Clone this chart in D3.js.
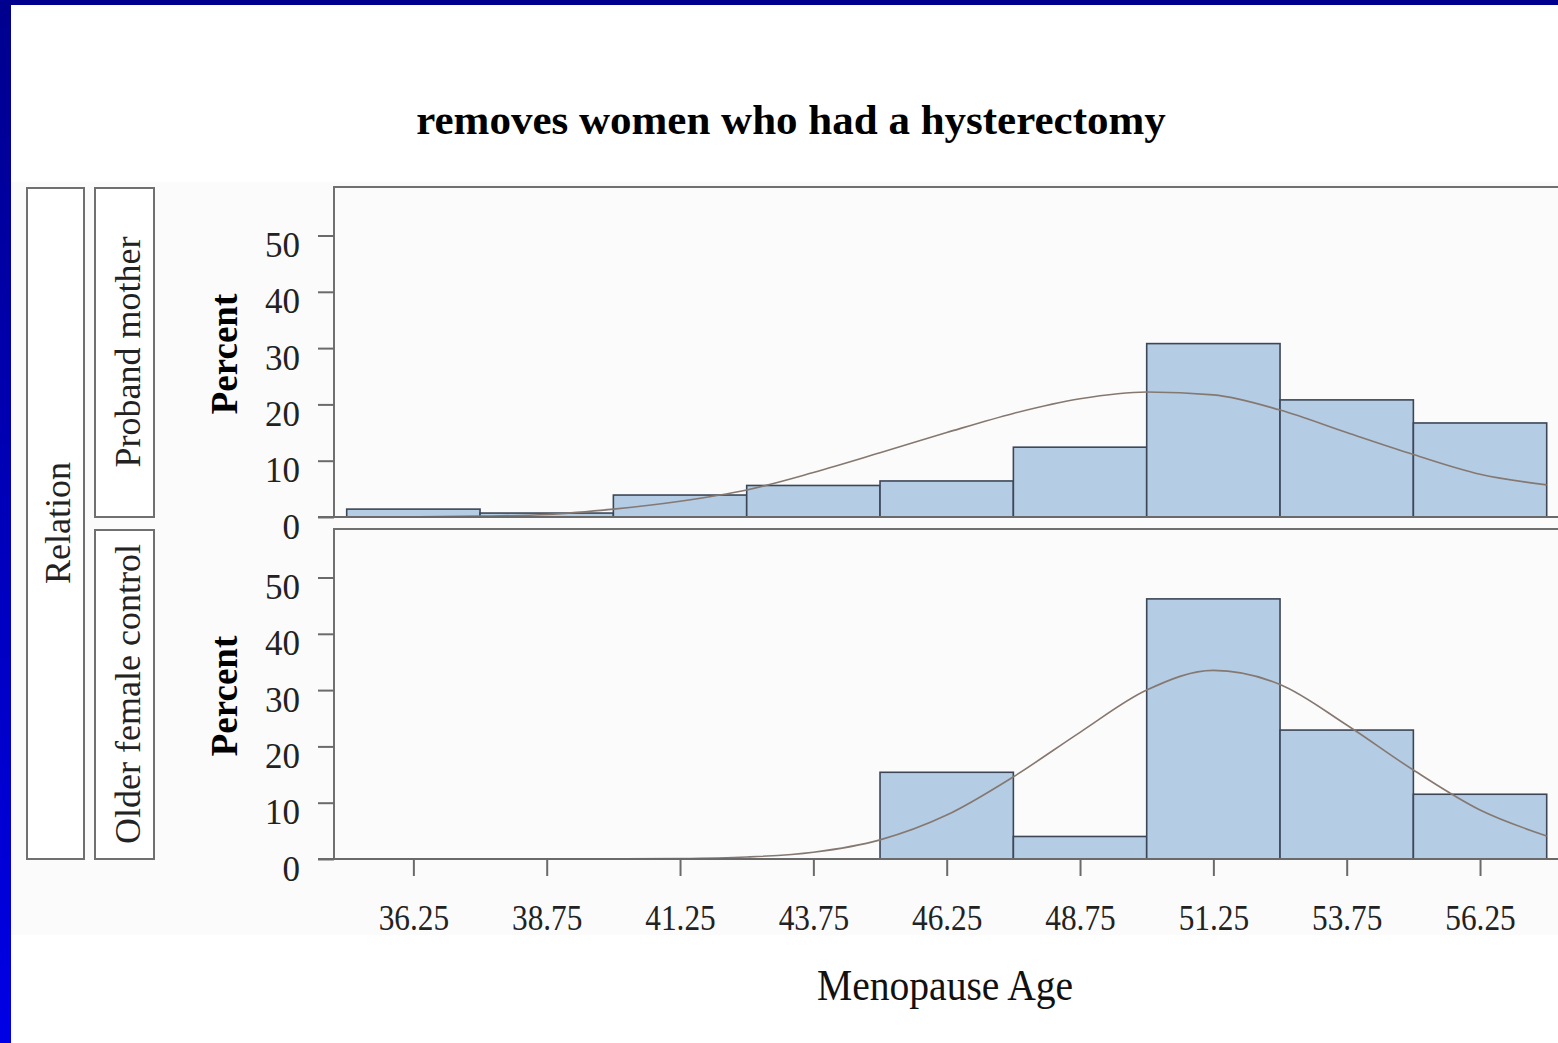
<!DOCTYPE html>
<meta charset="utf-8">
<style>
body { margin: 0; background: #fff; }
svg { display: block; font-family: "Liberation Serif", "Times New Roman", serif; }
.axis path { display: none; }
.axis line { stroke: #6a6a6a; stroke-width: 2; }
.axis text { fill: #222; font-size: 35px; font-family: "Liberation Serif", serif; }
.frame { fill: none; stroke: #707070; stroke-width: 2; }
.strip { fill: #fff; stroke: #707070; stroke-width: 2; }
.bar { fill: #b4cce4; stroke: #3c4656; stroke-width: 1.6; }
.curve { fill: none; stroke: #857870; stroke-width: 1.6; }
</style>
<body>
<script src="https://cdn.jsdelivr.net/npm/d3@7"></script>
<script>
// histogram bins (menopause age), percent per bin
var binStarts = [35, 37.5, 40, 42.5, 45, 47.5, 50, 52.5, 55];
var binWidth = 2.5;
var probandPct = [1.4, 0.7, 3.9, 5.6, 6.4, 12.4, 30.8, 20.8, 16.7];
var controlPct = [0, 0, 0, 0, 15.4, 4.0, 46.2, 22.9, 11.5];

// fitted normal curves
var curveAges = [35, 36.25, 37.5, 38.75, 40, 41.25, 42.5, 43.75, 45, 46.25, 47.5, 48.75, 50, 51.25, 52.5, 53.75, 55, 56.25, 57.5];
var probandCurve = [0.02, 0.05, 0.15, 0.45, 1.4, 2.8, 4.8, 7.9, 11.4, 15.0, 18.4, 21.0, 22.2, 21.7, 19.0, 15.0, 11.1, 7.6, 5.7];
var controlCurve = [0, 0, 0, 0, 0.02, 0.08, 0.35, 1.2, 3.4, 7.8, 14.6, 22.5, 30.0, 33.5, 31.0, 23.8, 15.8, 8.7, 4.1];

var xTicks = [36.25, 38.75, 41.25, 43.75, 46.25, 48.75, 51.25, 53.75, 56.25];
var yTicks = [0, 10, 20, 30, 40, 50];

var W = 1558, H = 1043;
var svg = d3.select("body").append("svg")
    .attr("width", W)
    .attr("height", H);

// slide background + blue border
var defs = svg.append("defs");
var grad = defs.append("linearGradient").attr("id", "side").attr("x1", 0).attr("y1", 0).attr("x2", 0).attr("y2", 1);
grad.append("stop").attr("offset", "0%").attr("stop-color", "#00008e");
grad.append("stop").attr("offset", "100%").attr("stop-color", "#0000e6");
svg.append("rect").attr("x", 11).attr("y", 182).attr("width", W - 11).attr("height", 753).attr("fill", "#fbfbfb");
svg.append("rect").attr("x", 0).attr("y", 0).attr("width", W).attr("height", 5).attr("fill", "#00008e");
svg.append("rect").attr("x", 0).attr("y", 0).attr("width", 11).attr("height", H).attr("fill", "url(#side)");

// title
svg.append("text")
    .attr("x", 791).attr("y", 134)
    .attr("text-anchor", "middle")
    .attr("font-weight", "bold")
    .style("font-size", "43px")
    .text("removes women who had a hysterectomy");

// x scale shared by both panels
var x = d3.scaleLinear().domain([35, 57.5]).range([346.7, 1546.7]);
var panelLeft = 334, panelRight = W + 2;

var panels = [
  { label: "Proband mother", pct: probandPct, curve: probandCurve, top: 187, bottom: 517 },
  { label: "Older female control", pct: controlPct, curve: controlCurve, top: 529, bottom: 859 }
];

panels.forEach(function(p, i) {
  var y = d3.scaleLinear().domain([0, 50]).range([p.bottom, p.bottom - 281.5]);

  // panel frame
  svg.append("rect").attr("class", "frame")
      .attr("x", panelLeft).attr("y", p.top)
      .attr("width", panelRight - panelLeft).attr("height", p.bottom - p.top);

  // bars (empty bins are not drawn)
  var bins = binStarts.map(function(b, j) { return { x0: b, x1: b + binWidth, v: p.pct[j] }; })
      .filter(function(d) { return d.v > 0; });
  svg.selectAll(".bar" + i)
      .data(bins)
    .enter().append("rect")
      .attr("class", "bar")
      .attr("x", function(d) { return x(d.x0); })
      .attr("width", function(d) { return x(d.x1) - x(d.x0); })
      .attr("y", function(d) { return y(d.v); })
      .attr("height", function(d) { return y(0) - y(d.v); });

  // normal curve
  var line = d3.line()
      .x(function(d, j) { return x(curveAges[j]); })
      .y(function(d) { return y(d); })
      .curve(d3.curveMonotoneX);
  svg.append("path").attr("class", "curve").attr("d", line(p.curve));

  // baseline across panel, starting at the y tick
  svg.append("line")
      .attr("x1", 318).attr("x2", panelRight)
      .attr("y1", p.bottom).attr("y2", p.bottom)
      .attr("stroke", "#6a6a6a").attr("stroke-width", 2);

  // y axis
  var ya = svg.append("g")
      .attr("class", "axis")
      .attr("transform", "translate(" + panelLeft + ",0)")
      .call(d3.axisLeft(y).tickValues(yTicks).tickSize(16).tickPadding(18));
  ya.selectAll("text").attr("dy", "0.6em");

  // Percent label
  svg.append("text")
      .attr("transform", "translate(237," + ((p.top + p.bottom) / 2 + 2) + ") rotate(-90)")
      .attr("text-anchor", "middle")
      .attr("font-weight", "bold")
      .style("font-size", "37px")
      .text("Percent");

  // strip
  svg.append("rect").attr("class", "strip")
      .attr("x", 95).attr("y", p.top + 1)
      .attr("width", 59).attr("height", p.bottom - p.top - 1);
  svg.append("text")
      .attr("transform", "translate(140," + ((p.top + p.bottom) / 2) + ") rotate(-90)")
      .attr("text-anchor", "middle")
      .style("font-size", "36px")
      .attr("fill", "#222")
      .text(p.label);
});

// outer Relation strip
svg.append("rect").attr("class", "strip")
    .attr("x", 27).attr("y", 188).attr("width", 57).attr("height", 671);
svg.append("text")
    .attr("transform", "translate(70,523) rotate(-90)")
    .attr("text-anchor", "middle")
    .style("font-size", "36px")
    .attr("fill", "#222")
    .text("Relation");

// x axis below bottom panel
var xa = svg.append("g")
    .attr("class", "axis")
    .attr("transform", "translate(0,859)")
    .call(d3.axisBottom(x).tickValues(xTicks).tickSize(17).tickFormat(d3.format(".2f")));
xa.selectAll("text")
    .attr("y", 71).attr("dy", 0)
    .style("font-size", "36px")
    .attr("transform", "scale(0.87,1)");

// x axis title
svg.append("text")
    .attr("transform", "translate(945,1000) scale(0.9,1)")
    .attr("text-anchor", "middle")
    .style("font-size", "44px")
    .attr("fill", "#111")
    .text("Menopause Age");
</script>
</body>
